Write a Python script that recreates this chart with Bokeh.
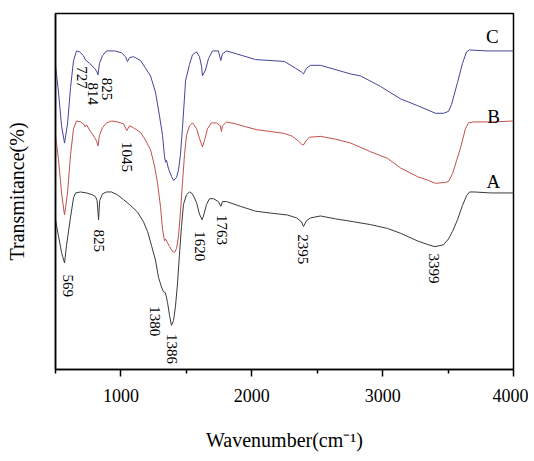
import math
from bokeh.plotting import figure
from bokeh.models import Range1d, FixedTicker
from bokeh.core.properties import value
from bokeh.embed import file_html
from bokeh.resources import INLINE

# ---- data (wavenumber in cm^-1, transmittance in arbitrary units) ----
wn_A = [500, 523, 546, 569, 584, 615, 638, 653, 691, 737, 783, 806, 818, 829, 838,
        859, 890, 928, 974, 1020, 1073, 1127, 1172, 1203, 1234, 1264, 1287, 1310, 1325,
        1340, 1356, 1372, 1386, 1402, 1417, 1432, 1447, 1463, 1478, 1501, 1524, 1547,
        1578, 1600, 1620, 1631, 1654, 1677, 1707, 1745, 1763, 1776, 1807, 1914, 2028,
        2143, 2273, 2342, 2380, 2395, 2418, 2449, 2525, 2640, 2777, 2907, 3037, 3137,
        3266, 3350, 3399, 3465, 3503, 3534, 3572, 3610, 3641, 3664, 3702, 3824, 4000]
T_A = [156, 139, 122, 111, 129, 159, 179, 184, 185, 184, 182, 180, 176, 156, 176,
       183, 185, 185, 182, 177, 171, 164, 154, 144, 129, 114, 96, 86, 81,
       80, 70, 56, 46, 51, 66, 89, 119, 149, 172, 182, 185, 183,
       174, 162, 156, 160, 172, 178, 178, 175, 170, 175, 175, 170, 165,
       163, 161, 158, 154, 149, 155, 158, 160, 157, 154, 151, 147, 142,
       134, 130, 128, 130, 136, 144, 156, 171, 181, 185, 185, 184, 184]

wn_B = [500, 523, 546, 569, 592, 615, 638, 661, 691, 714, 727, 737, 768, 798, 814,
        825, 836, 859, 890, 928, 974, 1020, 1045, 1066, 1096, 1150, 1188, 1226, 1257,
        1280, 1303, 1318, 1333, 1341, 1356, 1372, 1395, 1410, 1425, 1440, 1455, 1470,
        1486, 1501, 1524, 1547, 1578, 1600, 1623, 1639, 1662, 1692, 1730, 1760, 1768,
        1776, 1807, 1876, 1952, 2036, 2143, 2250, 2311, 2357, 2380, 2395, 2418, 2441,
        2525, 2640, 2755, 2907, 3037, 3137, 3266, 3350, 3404, 3480, 3503, 3534, 3595,
        3633, 3656, 3694, 3850, 4000]
T_B = [244, 219, 184, 161, 184, 224, 251, 259, 258, 256, 253, 255, 248, 242, 238,
       233, 244, 252, 257, 259, 258, 256, 249, 254, 252, 247, 239, 229, 212,
       194, 169, 146, 134, 136, 132, 128, 123, 122, 126, 139, 164, 194,
       224, 244, 254, 257, 251, 241, 232, 239, 251, 257, 257, 254, 248,
       254, 258, 256, 253, 250, 248, 246, 243, 238, 235, 234, 239, 242,
       243, 240, 236, 227, 220, 210, 201, 197, 194, 195, 196, 204, 231,
       251, 257, 258, 258, 259]

wn_C = [500, 523, 546, 569, 592, 615, 638, 661, 684, 714, 727, 760, 798, 814, 825,
        836, 859, 890, 951, 1005, 1035, 1050, 1066, 1096, 1150, 1188, 1226, 1264, 1295,
        1318, 1333, 1341, 1348, 1364, 1387, 1402, 1425, 1440, 1455, 1470, 1486, 1494,
        1524, 1547, 1578, 1600, 1616, 1623, 1646, 1669, 1700, 1745, 1763, 1776, 1807,
        1883, 2028, 2250, 2334, 2380, 2395, 2418, 2449, 2525, 2755, 2830, 2984, 3137,
        3266, 3404, 3465, 3503, 3526, 3572, 3610, 3641, 3664, 3800, 4000]
T_C = [317, 289, 254, 236, 256, 294, 322, 332, 331, 327, 323, 319, 314, 311, 307,
       319, 327, 332, 332, 330, 326, 321, 325, 326, 322, 314, 306, 289, 264,
       244, 222, 216, 218, 209, 201, 197, 200, 208, 224, 251, 284, 301,
       318, 328, 331, 326, 316, 306, 312, 324, 332, 332, 322, 329, 332,
       329, 323, 321, 314, 310, 308, 314, 317, 317, 308, 306, 295, 282,
       275, 267, 267, 269, 276, 299, 319, 331, 333, 332, 332]

# peak annotations
peak_text = ["569", "825", "1380", "1386", "1620", "1763", "2395", "3399",
             "1045", "727", "814", "825"]
peak_x = [592, 829, 1264, 1394, 1608, 1776, 2395, 3389, 1050, 706, 790, 897]
peak_y = [99, 146, 66, 37, 144, 161, 141, 121, 237, 316, 299, 304]

# curve names
name_text = ["A", "B", "C"]
name_x = [3847, 3847, 3839]
name_y = [196, 264, 347]

x_ticks = [1000, 2000, 3000, 4000]
x_minor = [500, 1500, 2500, 3500]

FONT = "Liberation Serif"

p = figure(width=528, height=453, x_range=Range1d(500, 4000), y_range=Range1d(0, 371),
           output_backend="svg", toolbar_location=None,
           min_border_left=55, min_border_right=15, min_border_top=13, min_border_bottom=69)

p.line(wn_A, T_A, line_color="#3a3a3a", line_width=1)
p.line(wn_B, T_B, line_color="#c0504d", line_width=1)
p.line(wn_C, T_C, line_color="#44449a", line_width=1)

p.text(x=peak_x, y=peak_y, text=peak_text, angle=-math.pi / 2,
       text_font=value(FONT), text_font_size="15px", text_align="left",
       text_baseline="middle", text_color="black")
p.text(x=name_x, y=name_y, text=name_text,
       text_font=value(FONT), text_font_size="19px", text_align="center",
       text_baseline="middle", text_color="black")

p.xgrid.visible = False
p.ygrid.visible = False
p.outline_line_color = "black"
p.outline_line_width = 1.5
p.outline_line_alpha = 1.0
p.background_fill_color = "white"
p.border_fill_color = "white"

xa = p.xaxis[0]
xa.ticker = FixedTicker(ticks=x_ticks, minor_ticks=x_minor)
xa.major_tick_in = 0
xa.major_tick_out = 7
xa.minor_tick_in = 0
xa.minor_tick_out = 4
xa.axis_line_width = 1.5
xa.major_tick_line_width = 1.5
xa.minor_tick_line_width = 1.5
xa.major_label_text_font = FONT
xa.major_label_text_font_size = "18px"
xa.major_label_text_color = "black"
xa.major_label_standoff = 12
xa.axis_label = "Wavenumber(cm\u207b\u00b9)"
xa.axis_label_text_font = FONT
xa.axis_label_text_font_size = "20px"
xa.axis_label_text_font_style = "normal"
xa.axis_label_text_color = "black"
xa.axis_label_standoff = 24

ya = p.yaxis[0]
ya.ticker = FixedTicker(ticks=[])
ya.major_tick_in = 0
ya.major_tick_out = 0
ya.minor_tick_in = 0
ya.minor_tick_out = 0
ya.major_label_text_font_size = "0px"
ya.axis_line_width = 1.5
ya.axis_label = "Transmitance(%)"
ya.axis_label_text_font = FONT
ya.axis_label_text_font_size = "20px"
ya.axis_label_text_font_style = "normal"
ya.axis_label_text_color = "black"
ya.axis_label_standoff = 28

open("out.html", "w").write(file_html(p, INLINE))
